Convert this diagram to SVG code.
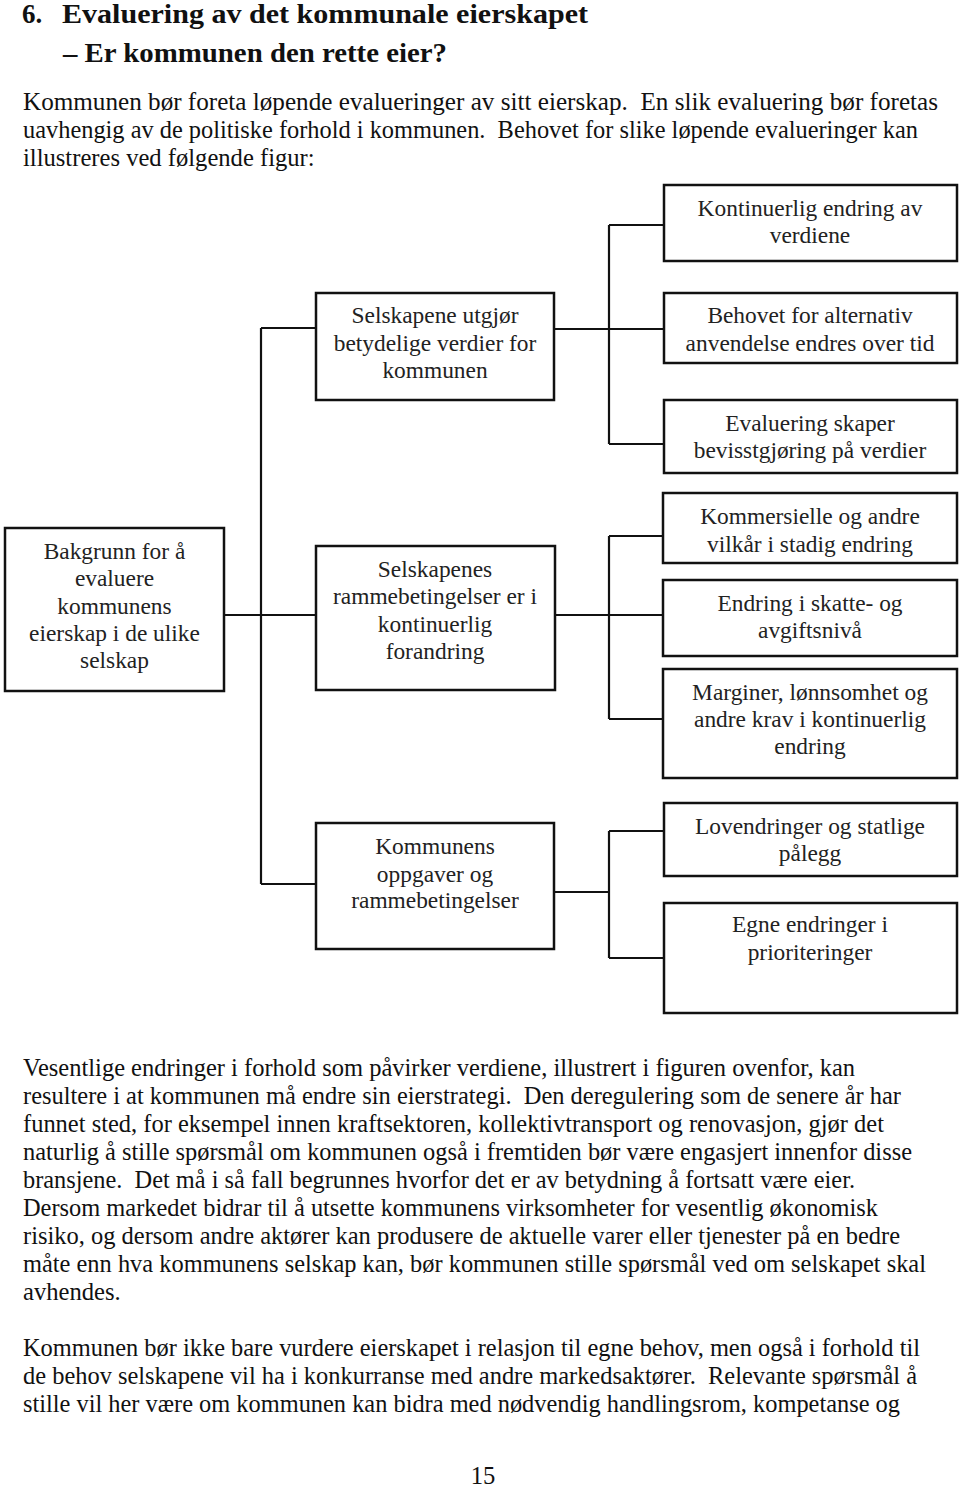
<svg xmlns="http://www.w3.org/2000/svg" width="960" height="1488" viewBox="0 0 960 1488">
<style>
.bg{fill:#ffffff}
.h{font-family:"Liberation Serif",serif;font-weight:bold;font-size:27px;fill:#111}
.p{font-family:"Liberation Serif",serif;font-size:24.6px;fill:#111;white-space:pre}
.box{fill:#ffffff;stroke:#111;stroke-width:2.5}
.t{font-family:"Liberation Serif",serif;font-size:23.4px;fill:#222;text-anchor:middle}
.c{fill:none;stroke:#111;stroke-width:2.2}
</style>
<rect class="bg" x="0" y="0" width="960" height="1488"/>
<g id="heading">
<text class="h" x="22" y="23">6.</text>
<text class="h" x="62" y="23" textLength="526" lengthAdjust="spacingAndGlyphs">Evaluering av det kommunale eierskapet</text>
<text class="h" x="63" y="62" textLength="384" lengthAdjust="spacingAndGlyphs">– Er kommunen den rette eier?</text>
</g>
<g id="intro">
<text class="p" x="23" y="110" textLength="915" lengthAdjust="spacingAndGlyphs" xml:space="preserve">Kommunen bør foreta løpende evalueringer av sitt eierskap.  En slik evaluering bør foretas</text>
<text class="p" x="23" y="138" textLength="895" lengthAdjust="spacingAndGlyphs" xml:space="preserve">uavhengig av de politiske forhold i kommunen.  Behovet for slike løpende evalueringer kan</text>
<text class="p" x="23" y="166">illustreres ved følgende figur:</text>
</g>
<g id="connectors">
<path class="c" d="M261 328 V884 M261 328 H316 M224 615 H316 M261 884 H316"/>
<path class="c" d="M554 329 H609 M609 225 V444 M609 225 H664 M609 329 H664 M609 444 H664"/>
<path class="c" d="M555 615 H609 M609 536 V719 M609 536 H663 M609 615 H663 M609 719 H663"/>
<path class="c" d="M554 892 H609 M609 831 V958 M609 831 H664 M609 958 H664"/>
</g>
<g id="n_kontinuerlig">
<rect class="box" x="664" y="185" width="293" height="76"/>
<text class="t" x="810" y="216">Kontinuerlig endring av</text>
<text class="t" x="810" y="243">verdiene</text>
</g>
<g id="n_behovet">
<rect class="box" x="664" y="293" width="293" height="70"/>
<text class="t" x="810" y="323">Behovet for alternativ</text>
<text class="t" x="810" y="351">anvendelse endres over tid</text>
</g>
<g id="n_evaluering">
<rect class="box" x="664" y="400" width="293" height="73"/>
<text class="t" x="810" y="431">Evaluering skaper</text>
<text class="t" x="810" y="458">bevisstgjøring på verdier</text>
</g>
<g id="n_selskapene_verdier">
<rect class="box" x="316" y="293" width="238" height="107"/>
<text class="t" x="435" y="323">Selskapene utgjør</text>
<text class="t" x="435" y="351">betydelige verdier for</text>
<text class="t" x="435" y="378">kommunen</text>
</g>
<g id="n_bakgrunn">
<rect class="box" x="5" y="528" width="219" height="163"/>
<text class="t" x="114.5" y="559">Bakgrunn for å</text>
<text class="t" x="114.5" y="586">evaluere</text>
<text class="t" x="114.5" y="614">kommunens</text>
<text class="t" x="114.5" y="641">eierskap i de ulike</text>
<text class="t" x="114.5" y="668">selskap</text>
</g>
<g id="n_selskapenes_ramme">
<rect class="box" x="316" y="546" width="239" height="144"/>
<text class="t" x="435" y="577">Selskapenes</text>
<text class="t" x="435" y="604">rammebetingelser er i</text>
<text class="t" x="435" y="632">kontinuerlig</text>
<text class="t" x="435" y="659">forandring</text>
</g>
<g id="n_kommersielle">
<rect class="box" x="663" y="493" width="294" height="70"/>
<text class="t" x="810" y="524">Kommersielle og andre</text>
<text class="t" x="810" y="552">vilkår i stadig endring</text>
</g>
<g id="n_endring">
<rect class="box" x="663" y="580" width="294" height="76"/>
<text class="t" x="810" y="611">Endring i skatte- og</text>
<text class="t" x="810" y="638">avgiftsnivå</text>
</g>
<g id="n_marginer">
<rect class="box" x="663" y="669" width="294" height="109"/>
<text class="t" x="810" y="700">Marginer, lønnsomhet og</text>
<text class="t" x="810" y="727">andre krav i kontinuerlig</text>
<text class="t" x="810" y="754">endring</text>
</g>
<g id="n_kommunens">
<rect class="box" x="316" y="823" width="238" height="126"/>
<text class="t" x="435" y="854">Kommunens</text>
<text class="t" x="435" y="882">oppgaver og</text>
<text class="t" x="435" y="908">rammebetingelser</text>
</g>
<g id="n_lovendringer">
<rect class="box" x="664" y="803" width="293" height="73"/>
<text class="t" x="810" y="834">Lovendringer og statlige</text>
<text class="t" x="810" y="861">pålegg</text>
</g>
<g id="n_egne">
<rect class="box" x="664" y="903" width="293" height="110"/>
<text class="t" x="810" y="932">Egne endringer i</text>
<text class="t" x="810" y="960">prioriteringer</text>
</g>
<g id="body">
<text class="p" x="23" y="1076" textLength="832" lengthAdjust="spacingAndGlyphs">Vesentlige endringer i forhold som påvirker verdiene, illustrert i figuren ovenfor, kan</text>
<text class="p" x="23" y="1104" textLength="878" lengthAdjust="spacingAndGlyphs" xml:space="preserve">resultere i at kommunen må endre sin eierstrategi.  Den deregulering som de senere år har</text>
<text class="p" x="23" y="1132" textLength="861" lengthAdjust="spacingAndGlyphs">funnet sted, for eksempel innen kraftsektoren, kollektivtransport og renovasjon, gjør det</text>
<text class="p" x="23" y="1160" textLength="889" lengthAdjust="spacingAndGlyphs">naturlig å stille spørsmål om kommunen også i fremtiden bør være engasjert innenfor disse</text>
<text class="p" x="23" y="1188" textLength="832" lengthAdjust="spacingAndGlyphs" xml:space="preserve">bransjene.  Det må i så fall begrunnes hvorfor det er av betydning å fortsatt være eier.</text>
<text class="p" x="23" y="1216" textLength="855" lengthAdjust="spacingAndGlyphs">Dersom markedet bidrar til å utsette kommunens virksomheter for vesentlig økonomisk</text>
<text class="p" x="23" y="1244" textLength="877" lengthAdjust="spacingAndGlyphs">risiko, og dersom andre aktører kan produsere de aktuelle varer eller tjenester på en bedre</text>
<text class="p" x="23" y="1272" textLength="903" lengthAdjust="spacingAndGlyphs">måte enn hva kommunens selskap kan, bør kommunen stille spørsmål ved om selskapet skal</text>
<text class="p" x="23" y="1300">avhendes.</text>
<text class="p" x="23" y="1356" textLength="897" lengthAdjust="spacingAndGlyphs">Kommunen bør ikke bare vurdere eierskapet i relasjon til egne behov, men også i forhold til</text>
<text class="p" x="23" y="1384" textLength="894" lengthAdjust="spacingAndGlyphs" xml:space="preserve">de behov selskapene vil ha i konkurranse med andre markedsaktører.  Relevante spørsmål å</text>
<text class="p" x="23" y="1412" textLength="877" lengthAdjust="spacingAndGlyphs">stille vil her være om kommunen kan bidra med nødvendig handlingsrom, kompetanse og</text>
<text class="p" x="483" y="1484" text-anchor="middle">15</text>
</g>
</svg>
